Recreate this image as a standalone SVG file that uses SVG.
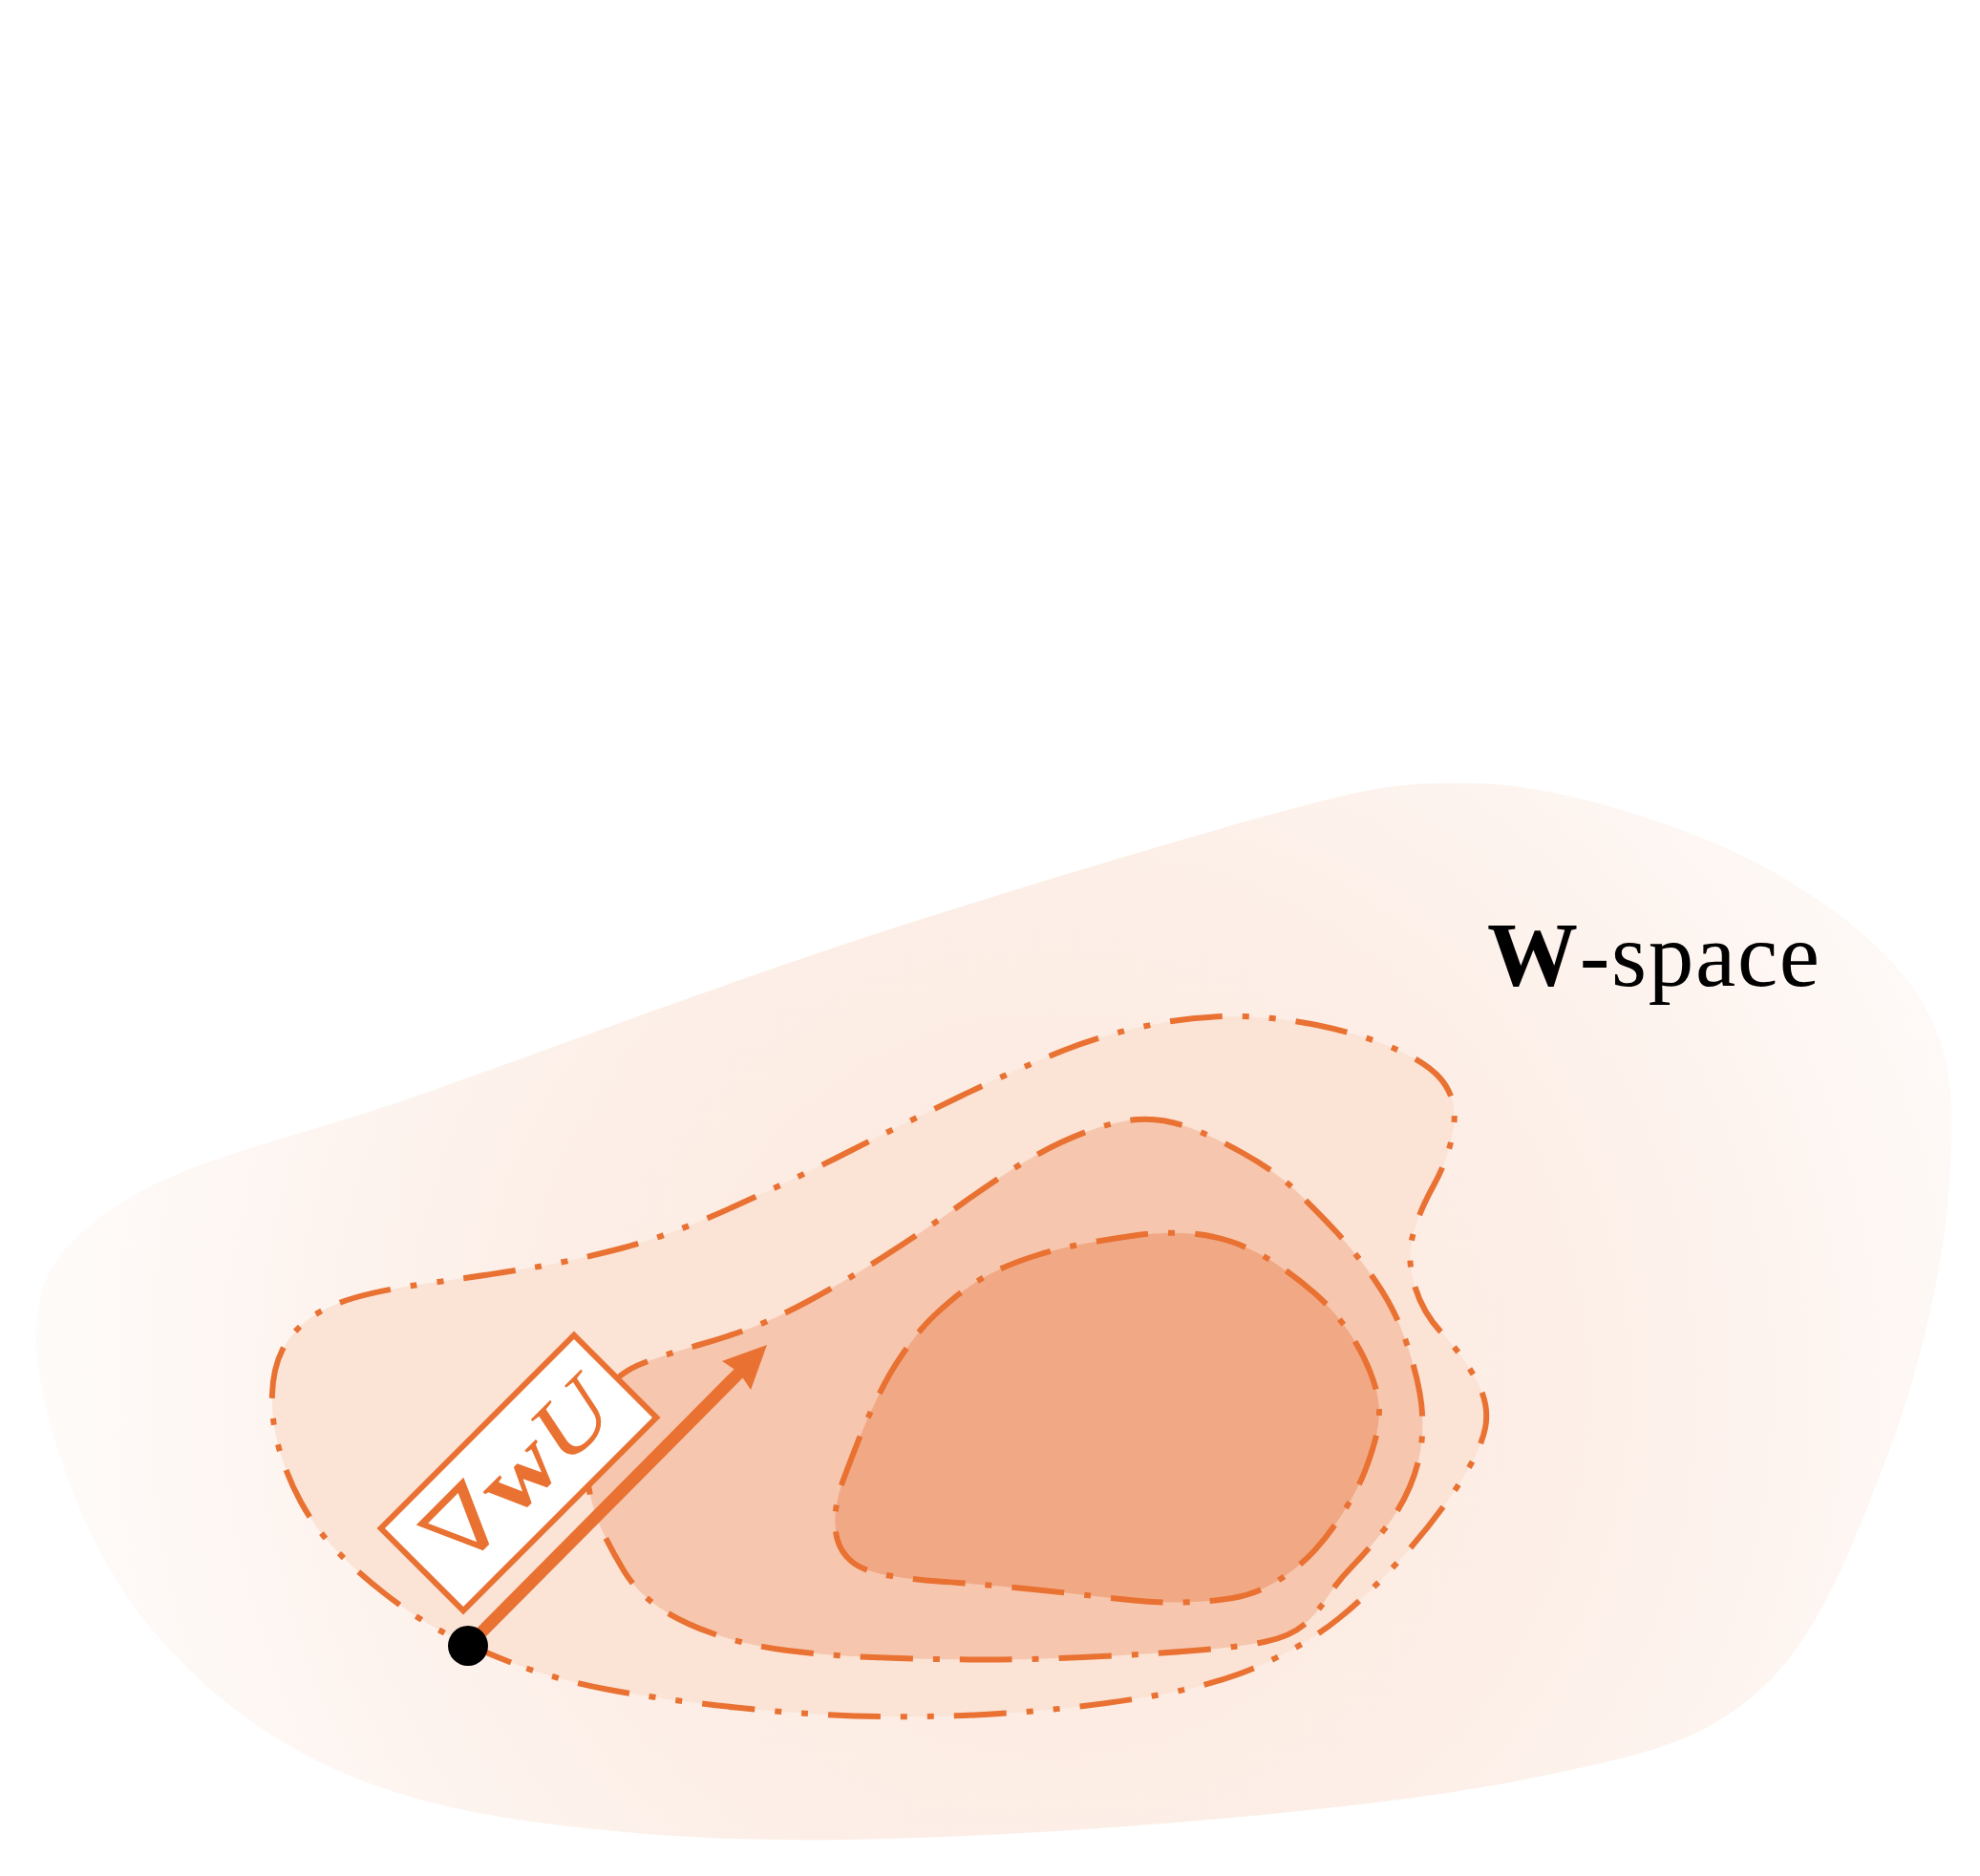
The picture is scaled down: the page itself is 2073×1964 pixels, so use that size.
<svg xmlns="http://www.w3.org/2000/svg" width="2073" height="1964" viewBox="0 0 2073 1964">
<defs>
<radialGradient id="blobGrad" gradientUnits="userSpaceOnUse" cx="1100" cy="1450" r="1050">
<stop offset="0" stop-color="#E97132" stop-opacity="0.17"/>
<stop offset="0.55" stop-color="#E97132" stop-opacity="0.11"/>
<stop offset="1" stop-color="#E97132" stop-opacity="0.03"/>
</radialGradient>
<path id="lvl-outer" d="M535,1740.5 Q490,1723 461.5,1707.5 Q433,1692 403,1668.5 Q373,1645 351.5,1622.5 Q330,1600 315,1572.5 Q300,1545 292,1516 Q284,1487 285,1459.5 Q286,1432 295.5,1413.5 Q305,1395 322.5,1381.5 Q340,1368 370,1359 Q400,1350 455,1342.5 Q510,1335 555,1327.5 Q600,1320 650,1307 Q700,1294 765.5,1264.5 Q831,1235 889,1205.5 Q947,1176 1006,1147.5 Q1065,1119 1114,1099.5 Q1163,1080 1221,1070 Q1279,1060 1336,1066.5 Q1393,1073 1441.5,1090.5 Q1490,1108 1508,1129 Q1526,1150 1522,1180 Q1518,1210 1501,1241 Q1484,1272 1478.5,1296 Q1473,1320 1481.5,1347.5 Q1490,1375 1510,1396 Q1530,1417 1545,1443.5 Q1560,1470 1555,1495 Q1550,1520 1525,1557.5 Q1500,1595 1466.5,1632 Q1433,1669 1401.5,1694.5 Q1370,1720 1325,1741 Q1280,1762 1215,1774 Q1150,1786 1075,1792 Q1000,1798 925,1797 Q850,1796 770,1787.5 Q690,1779 635,1768.5 Q580,1758 535,1740.5 Z"/>
<path id="lvl-middle" d="M634.5,1457 Q647,1437 673.5,1427 Q700,1417 730,1408.5 Q760,1400 785.5,1390.5 Q811,1381 846.5,1362 Q882,1343 924.5,1316 Q967,1289 1009.5,1258.5 Q1052,1228 1081,1211.5 Q1110,1195 1138.5,1184.5 Q1167,1174 1191,1172 Q1215,1170 1241,1179 Q1267,1188 1301,1207 Q1335,1226 1355,1245 Q1375,1264 1397.5,1288 Q1420,1312 1440,1341 Q1460,1370 1471,1401.5 Q1482,1433 1486.5,1458.5 Q1491,1484 1488.5,1508.5 Q1486,1533 1476,1556.5 Q1466,1580 1449.5,1601 Q1433,1622 1416.5,1639 Q1400,1656 1389,1673 Q1378,1690 1364.5,1701.5 Q1351,1713 1325.5,1718.5 Q1300,1724 1250,1728 Q1200,1732 1133.5,1735 Q1067,1738 1016,1737.5 Q965,1737 913.5,1735 Q862,1733 821,1727.5 Q780,1722 746,1710 Q712,1698 689.5,1682.5 Q667,1667 653.5,1645 Q640,1623 630,1601.5 Q620,1580 616,1555 Q612,1530 617,1503.5 Q622,1477 634.5,1457 Z"/>
<path id="lvl-inner" d="M965.5,1390.5 Q976,1378 997,1360.5 Q1018,1343 1039,1332.5 Q1060,1322 1086,1314 Q1112,1306 1137.5,1301.5 Q1163,1297 1187.5,1293.5 Q1212,1290 1239,1291 Q1266,1292 1289.5,1300 Q1313,1308 1335,1322.5 Q1357,1337 1376,1353.5 Q1395,1370 1410.5,1392 Q1426,1414 1435,1437.5 Q1444,1461 1444,1476.5 Q1444,1492 1439.5,1508.5 Q1435,1525 1428.5,1541.5 Q1422,1558 1407.5,1581.5 Q1393,1605 1376.5,1623 Q1360,1641 1337.5,1655 Q1315,1669 1290.5,1673 Q1266,1677 1239,1677.5 Q1212,1678 1187.5,1675.5 Q1163,1673 1124,1668.5 Q1085,1664 1046,1660.5 Q1007,1657 982.5,1655.5 Q958,1654 931,1649.5 Q904,1645 892,1635 Q880,1625 876.5,1611 Q873,1597 875,1581 Q877,1565 883,1549 Q889,1533 898,1510 Q907,1487 919,1462.5 Q931,1438 943,1420.5 Q955,1403 965.5,1390.5 Z"/>
<style>
.contour{fill:none;stroke:#E97132;stroke-width:6;stroke-linecap:butt;stroke-linejoin:round}
.dd{stroke-dasharray:55 21 7 21 7 21}
.d{stroke-dasharray:55 21 7 21}
.f1{fill:#FBE3D6;stroke:none}
.f2{fill:#F6C7AE;stroke:none}
.f3{fill:#F1A985;stroke:none}
.lbl{font-family:'Liberation Serif','DejaVu Serif',serif;fill:#E97132}
</style>
</defs>
<rect x="0" y="0" width="2073" height="1964" fill="#ffffff"/>
<g id="w-space-region">
<path d="M38,1400 C38,1330 66,1298 134,1255 C202,1212 316,1190 446,1144 C576,1098 756,1030 913,979 C1070,928 1286,863 1390,837 C1459,820 1480,820 1540,820 C1620,820 1743,857 1822,895 C1901,933 1976,989 2012,1048 C2048,1107 2046,1171 2040,1250 C2034,1329 2010,1435 1977,1521 C1944,1607 1907,1711 1844,1768 C1781,1825 1719,1838 1601,1862 C1483,1886 1288,1905 1136,1915 C984,1925 820,1931 690,1921 C560,1911 450,1896 357,1855 C264,1814 187,1749 134,1673 C81,1597 38,1470 38,1400 Z" fill="url(#blobGrad)"/>
<text x="1557" y="1032" font-family="'Liberation Serif',serif" font-size="95" fill="#000000" textLength="348" lengthAdjust="spacing"><tspan font-weight="bold">W</tspan>-space</text>
</g>
<g id="level-fills">
<use href="#lvl-outer" class="f1"/>
<use href="#lvl-middle" class="f2"/>
<use href="#lvl-inner" class="f3"/>
</g>
<g id="connectors">
<line x1="490" y1="1723" x2="777" y2="1434" stroke="#E97132" stroke-width="13"/>
<polygon points="803,1408 756,1425 774,1437 786,1455" fill="#E97132"/>
</g>
<g id="level-lines">
<use href="#lvl-outer" class="contour dd"/>
<use href="#lvl-middle" class="contour d"/>
<use href="#lvl-inner" class="contour d"/>
</g>
<g id="gradient-label" transform="translate(543,1542) rotate(-45)">
<rect x="-143" y="-61" width="286" height="122" fill="#ffffff" stroke="#E97132" stroke-width="6"/>
<text class="lbl" x="0" y="31" text-anchor="middle" font-size="94" textLength="234" lengthAdjust="spacingAndGlyphs">∇<tspan font-weight="bold">w</tspan><tspan font-style="italic">U</tspan></text>
</g>
<g id="start-point">
<circle cx="490" cy="1723" r="21" fill="#000000"/>
</g>
</svg>
